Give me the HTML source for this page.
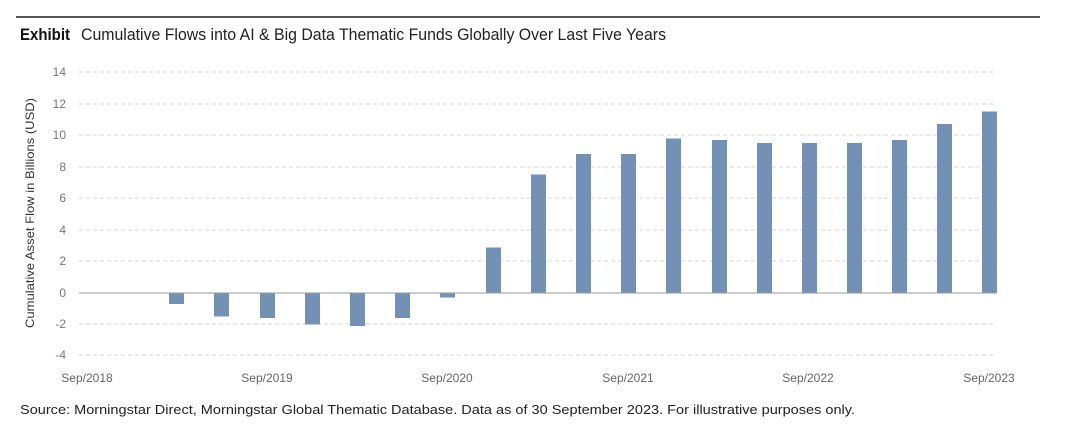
<!DOCTYPE html>
<html><head><meta charset="utf-8"><style>body{margin:0;background:#fff}svg{display:block}</style></head><body>
<svg width="1069" height="436" xmlns="http://www.w3.org/2000/svg" font-family="'Liberation Sans', sans-serif">
<line x1="16" y1="17" x2="1040" y2="17" stroke="#222" stroke-width="1.5"/>
<text x="20" y="40" font-size="17" font-weight="bold" fill="#111" textLength="50" lengthAdjust="spacingAndGlyphs">Exhibit</text>
<text x="81" y="40" font-size="17" fill="#222" textLength="585" lengthAdjust="spacingAndGlyphs">Cumulative Flows into AI &amp; Big Data Thematic Funds Globally Over Last Five Years</text>
<g stroke="#d4d4d4" stroke-dasharray="4,3" stroke-width="1">
<line x1="79" y1="72" x2="996" y2="72"/><line x1="79" y1="104" x2="996" y2="104"/><line x1="79" y1="135" x2="996" y2="135"/><line x1="79" y1="167" x2="996" y2="167"/><line x1="79" y1="198" x2="996" y2="198"/><line x1="79" y1="230" x2="996" y2="230"/><line x1="79" y1="261" x2="996" y2="261"/><line x1="79" y1="324" x2="996" y2="324"/><line x1="79" y1="355" x2="996" y2="355"/>
</g>
<g font-size="12" fill="#777" text-anchor="end">
<text x="66" y="76">14</text><text x="66" y="108">12</text><text x="66" y="139">10</text><text x="66" y="171">8</text><text x="66" y="202">6</text><text x="66" y="234">4</text><text x="66" y="265">2</text><text x="66" y="297">0</text><text x="66" y="328">-2</text><text x="66" y="359">-4</text>
</g>
<text transform="translate(34,213) rotate(-90)" font-size="12" fill="#333" text-anchor="middle" textLength="230" lengthAdjust="spacingAndGlyphs">Cumulative Asset Flow in Billions (USD)</text>
<g fill="#7391b5">
<rect x="169" y="293" width="15" height="11"/>
<rect x="214" y="293" width="15" height="23.5"/>
<rect x="260" y="293" width="15" height="25"/>
<rect x="305" y="293" width="15" height="31.5"/>
<rect x="350" y="293" width="15" height="33"/>
<rect x="395" y="293" width="15" height="25"/>
<rect x="440" y="293" width="15" height="4.5"/>
<rect x="486" y="247.5" width="15" height="45.5"/>
<rect x="531" y="174.5" width="15" height="118.5"/>
<rect x="576" y="154" width="15" height="139"/>
<rect x="621" y="154" width="15" height="139"/>
<rect x="666" y="138.5" width="15" height="154.5"/>
<rect x="712" y="140" width="15" height="153"/>
<rect x="757" y="143" width="15" height="150"/>
<rect x="802" y="143" width="15" height="150"/>
<rect x="847" y="143" width="15" height="150"/>
<rect x="892" y="140" width="15" height="153"/>
<rect x="937" y="124" width="15" height="169"/>
<rect x="982" y="111.5" width="15" height="181.5"/>
</g>
<line x1="79" y1="293" x2="996" y2="293" stroke="#999" stroke-width="1"/>
<g font-size="12" fill="#666" text-anchor="middle">
<text x="87" y="382">Sep/2018</text><text x="267" y="382">Sep/2019</text><text x="447" y="382">Sep/2020</text><text x="628" y="382">Sep/2021</text><text x="808" y="382">Sep/2022</text><text x="989" y="382">Sep/2023</text>
</g>
<text x="20" y="414" font-size="13" fill="#222" textLength="835" lengthAdjust="spacingAndGlyphs">Source: Morningstar Direct, Morningstar Global Thematic Database. Data as of 30 September 2023. For illustrative purposes only.</text>
</svg>
</body></html>
